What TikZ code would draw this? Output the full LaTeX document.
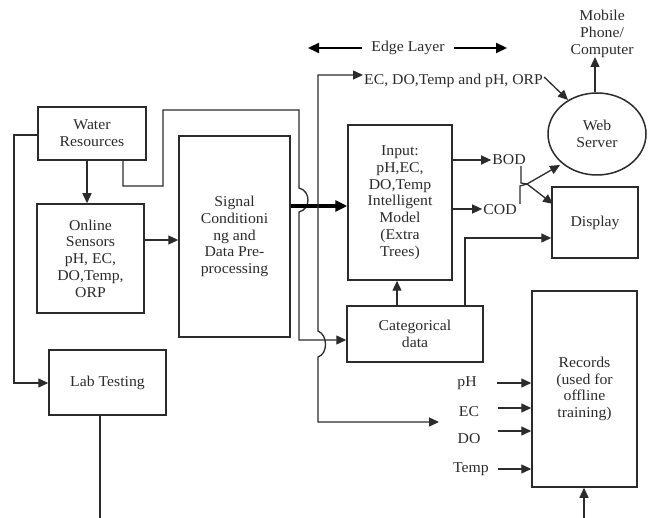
\documentclass[tikz,border=0pt]{standalone}
\usepackage{fontspec}
\setmainfont{Liberation Serif}[FakeStretch=1.05]
\usetikzlibrary{arrows.meta,shapes.geometric}
\definecolor{ink}{HTML}{2B2B2B}
\begin{document}
\begin{tikzpicture}[x=1pt,y=-1pt,
  every node/.style={font=\fontsize{15}{16.8}\selectfont, text=ink},
  box/.style={draw=ink, line width=1.5pt, align=center, inner sep=1pt},
  lbl/.style={align=center, inner sep=1pt},
  conn/.style={draw=ink, line width=1.3pt},
  arr/.style={conn, -{Triangle[length=10pt,width=9pt]}},
  thickarr/.style={draw=black, line width=3.2pt, -{Triangle[length=12pt,width=11pt]}},
  edgearr/.style={draw=black, line width=2.2pt, -{Triangle[length=11pt,width=10pt]}}]
\useasboundingbox (0,0) rectangle (648,518);

% boxes
\node[box, minimum width=108pt, minimum height=53pt] (wr) at (92,133.5) {Water\\Resources};
\node[box, minimum width=107pt, minimum height=109pt] (os) at (90.5,258.5) {Online\\Sensors\\pH, EC,\\DO,Temp,\\ORP};
\node[box, minimum width=111pt, minimum height=201pt] (sc) at (234.5,236.5) {Signal\\Conditioni\\ng and\\Data Pre-\\processing};
\node[box, minimum width=117pt, minimum height=65pt] (lab) at (107.5,382.5) {Lab Testing};
\node[box, minimum width=104pt, minimum height=155pt] (inp) at (400,202.5) {Input:\\pH,EC,\\DO,Temp\\Intelligent\\Model\\(Extra\\Trees)};
\node[box, minimum width=136pt, minimum height=56pt] (cat) at (415,334) {Categorical\\data};
\node[box, minimum width=86pt, minimum height=71pt] (disp) at (595,222.5) {Display};
\node[box, minimum width=105pt, minimum height=196pt] (rec) at (584.5,389) {Records\\(used for\\offline\\training)};
\node[box, ellipse, minimum width=98pt, minimum height=82pt] (web) at (597,134) {Web\\Server};

% labels
\node[lbl] (mob) at (602,34) {Mobile\\Phone/\\Computer};
\node[lbl] (edge) at (408,48) {Edge Layer};
\node[lbl, anchor=west] (ecl) at (363,81) {EC, DO,Temp and pH, ORP};
\node[lbl] (bod) at (509,160) {BOD};
\node[lbl] (cod) at (500,210) {COD};
\node[lbl] (ph) at (467,383) {pH};
\node[lbl] (ec) at (469,412) {EC};
\node[lbl] (do) at (469,439) {DO};
\node[lbl] (tmp) at (471,469) {Temp};

% coordinates
\coordinate (eL) at (308,48);
\coordinate (eR) at (507,48);
\coordinate (lte) at (100,518);
\coordinate (rin) at (584,518);
\coordinate (jn) at (527,184);

% edge layer arrows
\draw[edgearr] (edge.west) ++(-8,0) -- (eL);
\draw[edgearr] (edge.east) ++(8,0) -- (eR);

% water resources -> sensors
\draw[arr] (wr.south -| 87,0) -- (os.north -| 87,0);
% sensors -> signal
\draw[arr] (os.east |- 0,240) -- (sc.west |- 0,240);
% water resources -> lab testing
\draw[arr] (wr.west |- 0,135) -- (14,135) -- (14,383) -- (lab.west |- 0,383);
% lab testing down
\draw[conn] (lab.south -| lte) -- (lte);
% water resources -> categorical (with jump)
\draw[arr] (wr.south -| 123,0) -- (123,186) -- (163,186) -- (163,110) -- (299,110) -- (299,188)
  .. controls (311,191) and (311,209) .. (299,212) -- (299,340) -- (cat.west |- 0,340);
% signal -> input thick
\draw[thickarr] (sc.east |- 0,206) -- (inp.west |- 0,206);
% branch line up to EC label and down to EC (jump at 340)
\draw[conn, {Triangle[length=10pt,width=9pt]}-{Triangle[length=10pt,width=9pt]}]
  (ecl.west |- 0,75) -- (318,75) -- (318,331)
  .. controls (328,335) and (328,354) .. (318,357) -- (318,422) -- (439,422);
% EC label -> web server
\draw[arr] (ecl.east |- 0,77) -- (568,100);
% web -> mobile
\draw[arr] (web.north -| 595,0) -- (595,57);
% input -> BOD, COD
\draw[arr] (inp.east |- 0,160) -- (bod.west |- 0,160);
\draw[arr] (inp.east |- 0,209) -- (cod.west |- 0,209);
% BOD/COD merge
\draw[conn] (bod.south -| 521,0) -- (521,183) -- (jn);
\draw[conn] (cod.north -| 520,0) -- (520,186) -- (jn);
\draw[arr] (jn) -- (560,165);
\draw[arr] (jn) -- (553,204);
% categorical -> input, display
\draw[arr] (cat.north -| 397,0) -- (inp.south -| 397,0);
\draw[arr] (cat.north -| 465,0) -- (465,238) -- (disp.west |- 0,238);
% records inputs
\draw[arr] (497,383) -- (rec.west |- 0,383);
\draw[arr] (498,408) -- (rec.west |- 0,408);
\draw[arr] (498,431) -- (rec.west |- 0,431);
\draw[arr] (498,469) -- (rec.west |- 0,469);
\draw[arr] (rin) -- (rec.south -| rin);
\end{tikzpicture}
\end{document}
